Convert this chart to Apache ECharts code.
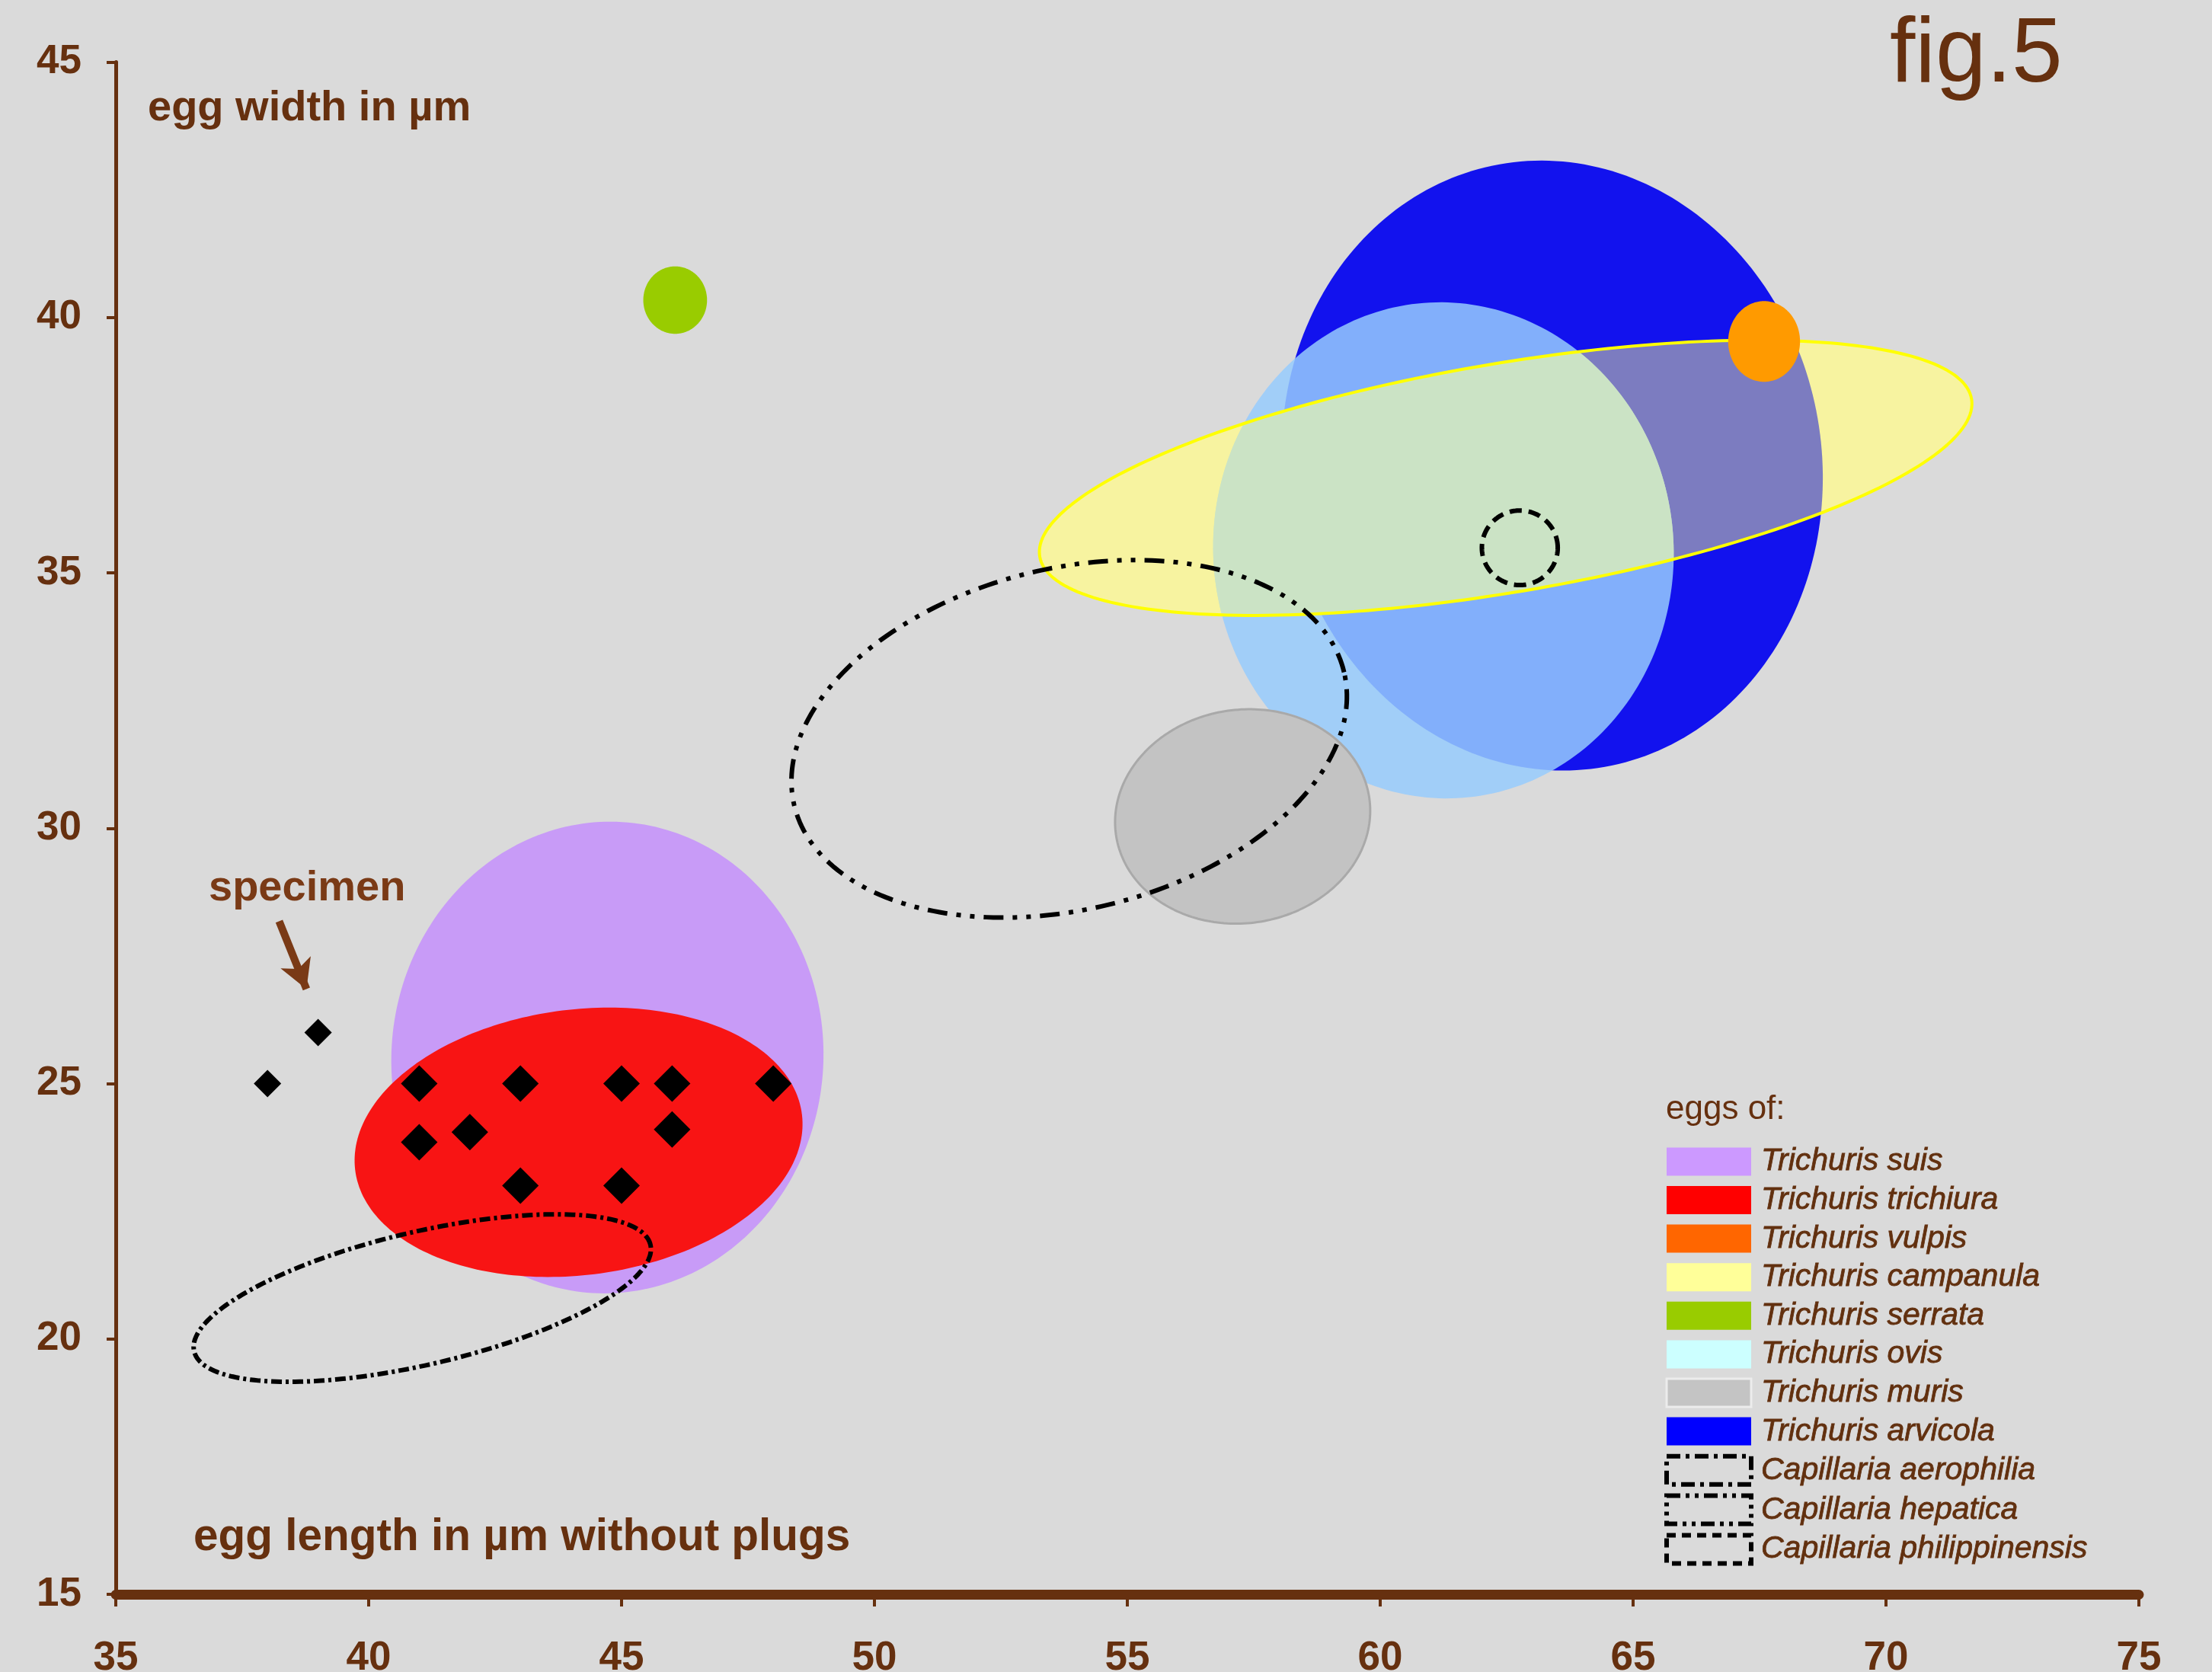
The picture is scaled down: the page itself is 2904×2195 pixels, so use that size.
<!DOCTYPE html>
<html>
<head>
<meta charset="utf-8">
<script src="https://cdn.jsdelivr.net/npm/echarts@6/dist/echarts.min.js"></script>
<style>
html, body { margin: 0; padding: 0; background: #dadada; }
#chart { width: 2904px; height: 2195px; }
</style>
</head>
<body>
<div id="chart"></div>
<script>
// Egg size ranges of Trichuris and Capillaria species (length × width, µm).
// Each range is an ellipse: centre, half-extent along length and width, tilt in degrees.
const species = [
  'Trichuris suis', 'Trichuris trichiura', 'Trichuris vulpis', 'Trichuris campanula',
  'Trichuris serrata', 'Trichuris ovis', 'Trichuris muris', 'Trichuris arvicola',
  'Capillaria aerophilia', 'Capillaria hepatica', 'Capillaria philippinensis'
];
const centerLength = [44.72, 44.15, 67.59, 62.48, 46.06, 61.25, 57.28, 63.40, 62.76, 53.85, 41.06];
const centerWidth  = [25.51, 23.85, 39.53, 36.86, 40.34, 35.44, 30.23, 37.10, 35.49, 31.75, 20.80];
const halfLength   = [4.27, 4.45, 0.71, 9.34, 0.63, 4.55, 2.53, 5.33, 0.75, 5.59, 4.63];
const halfWidth    = [4.62, 2.60, 0.79, 2.24, 0.66, 4.86, 2.09, 5.99, 0.73, 3.34, 1.30];
const tiltDeg      = [-5, 7, 0, 9.5, 0, 6, 8, 10, 0, 13.5, 13];

// Measured eggs (black diamonds)
const specimenLength = [38, 39];
const specimenWidth  = [25, 26];
const sampleLength = [41, 43, 45, 46, 48, 41, 42, 46, 43, 45];
const sampleWidth  = [25, 25, 25, 25, 25, 23.85, 24.05, 24.1, 23, 23];

// Pointer from the "specimen" note to the measured egg
const arrowFrom = [38.23, 28.18];
const arrowTo   = [38.77, 26.85];

const xTicks = { min: 35, max: 75, interval: 5 };
const yTicks = { min: 15, max: 45, interval: 5 };

const BROWN = '#66300f';
const FONT = '"Liberation Sans", Arial, sans-serif';

// Fill/outline of each range in the plot
const plotStyle = {
  'Trichuris suis':        { fill: '#c89bf7' },
  'Trichuris trichiura':   { fill: '#f81414' },
  'Trichuris vulpis':      { fill: '#ff9a00' },
  'Trichuris campanula':   { fill: 'rgba(255,255,136,0.45)', stroke: '#ffff00', lineWidth: 4 },
  'Trichuris serrata':     { fill: '#99cc00' },
  'Trichuris ovis':        { fill: 'rgba(150,203,253,0.85)' },
  'Trichuris muris':       { fill: '#c3c3c3', stroke: '#a9a9a9', lineWidth: 3 },
  'Trichuris arvicola':    { fill: '#1212ee' },
  'Capillaria aerophilia':     { fill: 'none', stroke: '#000', lineWidth: 6, lineDash: [16, 9] },
  'Capillaria hepatica':       { fill: 'none', stroke: '#000', lineWidth: 6, lineDash: [26, 12, 6, 12, 6, 12] },
  'Capillaria philippinensis': { fill: 'none', stroke: '#000', lineWidth: 6, lineDash: [14, 5, 4, 5] }
};
// Opaque underlay that keeps T. campanula bright where it lies on the bare background
const campanulaBase = { fill: '#f0e9b4' };
// Where T. ovis and T. campanula overlap the tint is flat (no blue showing through)
const ovisUnderCampanula = { fill: '#a0cdf8' };

// Swatches shown in the key
const keyStyle = {
  'Trichuris suis':        { color: '#cc99ff', borderWidth: 0 },
  'Trichuris trichiura':   { color: '#ff0000', borderWidth: 0 },
  'Trichuris vulpis':      { color: '#ff6600', borderWidth: 0 },
  'Trichuris campanula':   { color: '#ffff99', borderWidth: 0 },
  'Trichuris serrata':     { color: '#99cc00', borderWidth: 0 },
  'Trichuris ovis':        { color: '#ccffff', borderWidth: 0 },
  'Trichuris muris':       { color: '#c4c4c4', borderColor: '#ececec', borderWidth: 3 },
  'Trichuris arvicola':    { color: '#0000ff', borderWidth: 0 },
  'Capillaria aerophilia':     { color: 'transparent', borderColor: '#000', borderWidth: 6, borderType: [18, 7, 5, 7] },
  'Capillaria hepatica':       { color: 'transparent', borderColor: '#000', borderWidth: 6, borderType: [18, 7, 5, 7, 5, 7] },
  'Capillaria philippinensis': { color: 'transparent', borderColor: '#000', borderWidth: 6, borderType: [12, 8] }
};

// Painting order of the ranges (back to front); 'base' entries are underlays
const drawOrder = [
  ['Trichuris suis'], ['Trichuris trichiura'], ['Capillaria philippinensis'],
  ['Trichuris campanula', 'base'], ['Trichuris arvicola'], ['Trichuris ovis'],
  ['Trichuris campanula'], ['Trichuris vulpis'], ['Trichuris muris'],
  ['Capillaria hepatica'], ['Capillaria aerophilia'], ['Trichuris serrata']
];

// Outline of an ellipse in pixel space, sampled through the chart's scales
function ellipsePixels(api, cx, cy, rx, ry, deg) {
  const a = deg * Math.PI / 180;
  const ca = Math.cos(a), sa = Math.sin(a);
  const pts = [];
  const n = 240;
  for (let i = 0; i < n; i++) {
    const t = i / n * Math.PI * 2;
    const dx = rx * Math.cos(t), dy = ry * Math.sin(t);
    pts.push(api.coord([cx + dx * ca - dy * sa, cy + dx * sa + dy * ca]));
  }
  return pts;
}

function signedArea(poly) {
  let s = 0;
  for (let i = 0; i < poly.length; i++) {
    const p = poly[i], q = poly[(i + 1) % poly.length];
    s += p[0] * q[1] - q[0] * p[1];
  }
  return s / 2;
}

// Intersection of two convex polygons (Sutherland–Hodgman)
function clipConvex(subject, clip) {
  const dir = signedArea(clip) > 0 ? 1 : -1;
  let out = subject;
  for (let i = 0; i < clip.length && out.length; i++) {
    const A = clip[i], B = clip[(i + 1) % clip.length];
    const side = function (p) { return dir * ((B[0] - A[0]) * (p[1] - A[1]) - (B[1] - A[1]) * (p[0] - A[0])); };
    const input = out;
    out = [];
    for (let j = 0; j < input.length; j++) {
      const P = input[j], Q = input[(j + 1) % input.length];
      const sp = side(P), sq = side(Q);
      if (sp >= 0) out.push(P);
      if ((sp >= 0) !== (sq >= 0)) {
        const t = sp / (sp - sq);
        out.push([P[0] + t * (Q[0] - P[0]), P[1] + t * (Q[1] - P[1])]);
      }
    }
  }
  return out;
}

function ellipseRenderer(name, style) {
  return function (params, api) {
    const pts = ellipsePixels(api, api.value(0), api.value(1), api.value(2), api.value(3), api.value(4));
    const shape = {
      type: 'polygon',
      shape: { points: pts },
      style: Object.assign({ lineJoin: 'round' }, style)
    };
    if (name !== 'Trichuris ovis') return shape;
    const c = species.indexOf('Trichuris campanula');
    const band = ellipsePixels(api, centerLength[c], centerWidth[c], halfLength[c], halfWidth[c], tiltDeg[c]);
    const overlap = clipConvex(pts, band);
    return {
      type: 'group',
      children: [shape, { type: 'polygon', shape: { points: overlap }, style: ovisUnderCampanula }]
    };
  };
}

const rangeSeries = drawOrder.map(function (entry, k) {
  const name = entry[0];
  const i = species.indexOf(name);
  const isBase = entry[1] === 'base';
  return {
    name: name,
    type: 'custom',
    z: 2 + k,
    silent: true,
    encode: { x: 0, y: 1 },
    data: [[centerLength[i], centerWidth[i], halfLength[i], halfWidth[i], tiltDeg[i]]],
    renderItem: ellipseRenderer(isBase ? '' : name, isBase ? campanulaBase : plotStyle[name])
  };
});

const diamondSeries = [
  {
    name: 'specimen',
    type: 'scatter',
    z: 30,
    symbol: 'diamond',
    symbolSize: 36,
    itemStyle: { color: '#000', opacity: 1 },
    data: specimenLength.map(function (v, i) { return [v, specimenWidth[i]]; }),
    markLine: {
      silent: true,
      symbol: ['none', 'arrow'],
      symbolSize: [32, 38],
      lineStyle: { color: '#7a3a16', width: 10, type: 'solid', opacity: 1 },
      label: { show: false },
      data: [[{ coord: arrowFrom }, { coord: arrowTo }]]
    }
  },
  {
    name: 'eggs',
    type: 'scatter',
    z: 30,
    symbol: 'diamond',
    symbolSize: 48,
    itemStyle: { color: '#000', opacity: 1 },
    data: sampleLength.map(function (v, i) { return [v, sampleWidth[i]]; })
  }
];

const chart = echarts.init(document.getElementById('chart'), null, { renderer: 'canvas' });

chart.setOption({
  animation: false,
  backgroundColor: '#dadada',
  grid: { left: 152, right: 96, top: 81.5, bottom: 102, containLabel: false, outerBoundsMode: 'none' },
  xAxis: {
    type: 'value',
    min: xTicks.min, max: xTicks.max, interval: xTicks.interval,
    splitLine: { show: false },
    axisLine: { show: true, onZero: false, lineStyle: { color: BROWN, width: 13 } },
    axisTick: { show: true, length: 16, lineStyle: { color: BROWN, width: 4 } },
    axisLabel: { color: BROWN, fontSize: 53, fontWeight: 'bold', fontFamily: FONT, margin: 58 }
  },
  yAxis: {
    type: 'value',
    min: yTicks.min, max: yTicks.max, interval: yTicks.interval,
    splitLine: { show: false },
    axisLine: { show: true, onZero: false, lineStyle: { color: BROWN, width: 5 } },
    axisTick: { show: true, length: 12, lineStyle: { color: BROWN, width: 4 } },
    axisLabel: { color: BROWN, fontSize: 53, fontWeight: 'bold', fontFamily: FONT, margin: 45 }
  },
  legend: {
    orient: 'vertical',
    left: 2180,
    top: 1499,
    itemWidth: 111,
    itemHeight: 37,
    itemGap: 8.8,
    icon: 'rect',
    selectedMode: false,
    textStyle: {
      color: '#62300f', fontSize: 41, fontStyle: 'italic', fontFamily: FONT,
      lineHeight: 37, padding: [0, 0, 0, 8],
      textBorderColor: '#62300f', textBorderWidth: 0.8
    },
    data: species.map(function (name) {
      return { name: name, icon: 'rect', itemStyle: keyStyle[name] };
    })
  },
  graphic: [
    { type: 'text', x: 2481, y: 74, style: { text: 'fig.5', font: '120px ' + FONT, fill: BROWN, verticalAlign: 'middle' } },
    { type: 'text', x: 194, y: 143, style: { text: 'egg width in µm', font: 'bold 56px ' + FONT, fill: BROWN, verticalAlign: 'middle' } },
    { type: 'text', x: 254, y: 2019, style: { text: 'egg length in µm without plugs', font: 'bold 58.5px ' + FONT, fill: BROWN, verticalAlign: 'middle' } },
    { type: 'text', x: 2187, y: 1457, style: { text: 'eggs of:', font: '44px ' + FONT, fill: BROWN, verticalAlign: 'middle' } },
    { type: 'text', x: 274, y: 1167, style: { text: 'specimen', font: 'bold 56px ' + FONT, fill: '#7a3a16', verticalAlign: 'middle' } }
  ],
  series: rangeSeries.concat(diamondSeries)
});
</script>
</body>
</html>
